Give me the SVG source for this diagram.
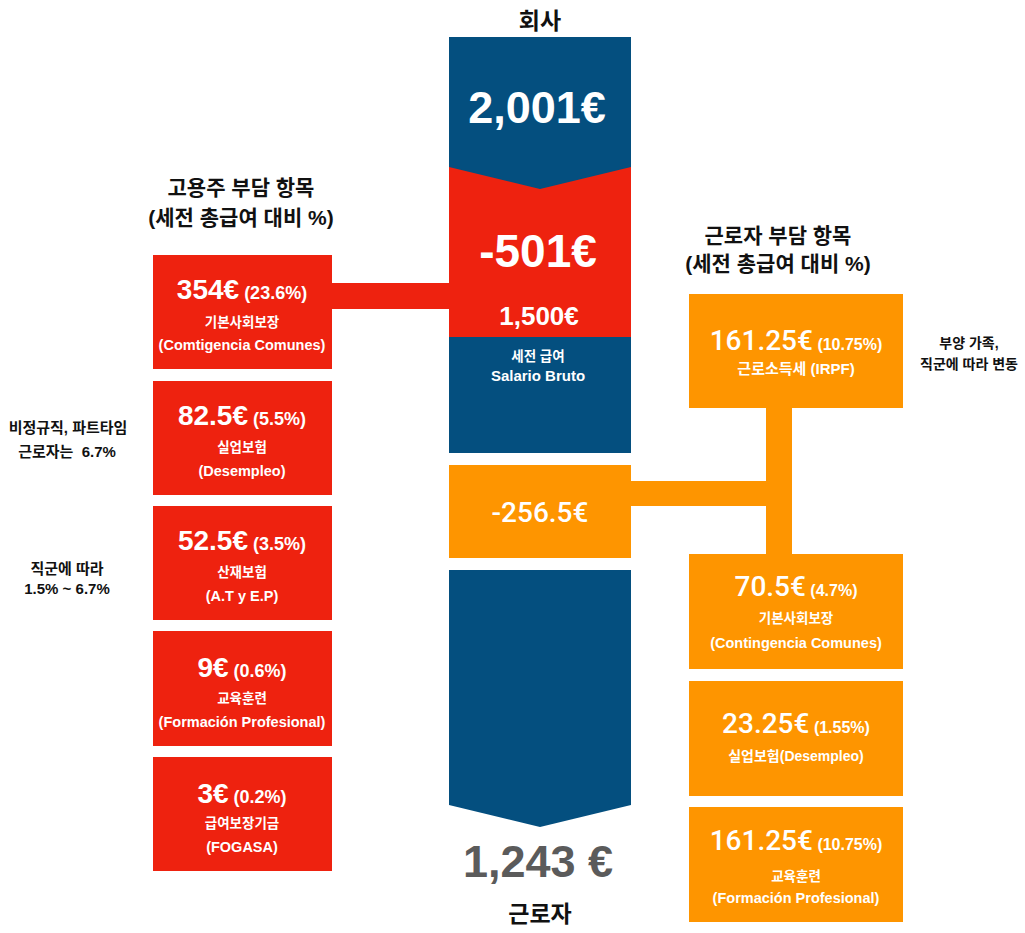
<svg xmlns="http://www.w3.org/2000/svg" width="1025" height="933" viewBox="0 0 1025 933">
<style>
text{font-family:"Liberation Sans","Noto Sans CJK KR",sans-serif;text-anchor:middle;font-weight:bold}
.w{fill:#ffffff}
.k{fill:#111111}
.blue{fill:#044f7f}
.red{fill:#ee220f}
.org{fill:#fe9500}
.big{font-size:28px}
.pct{font-size:18px}
.sub{font-size:13.5px}
.lat{font-size:14.5px}
.rn{font-family:Roboto,"Liberation Sans",sans-serif;font-weight:500}
.note{font-size:15px}
.head{font-size:21px}
</style>
<rect width="1025" height="933" fill="#ffffff"/>
<g id="connectors">
<rect class="red" x="330" y="283" width="122" height="26"/>
<rect class="org" x="629" y="481" width="163" height="25"/>
<rect class="org" x="766" y="406" width="26" height="150"/>
</g>
<g id="company">
<text class="k" x="540" y="29" font-size="23">회사</text>
<rect class="blue" x="449" y="37" width="182" height="416"/>
<text class="w" x="537" y="123" font-size="45">2,001€</text>
</g>
<g id="employer-total">
<polygon class="red" points="449,167 540,189 631,167 631,337 449,337"/>
<text class="w" x="538" y="267" font-size="46">-501€</text>
<text class="w" x="539" y="325" font-size="26">1,500€</text>
</g>
<g id="gross">
<text class="w" x="538" y="361" font-size="13.5">세전 급여</text>
<text class="w" x="538" y="381" font-size="15">Salario Bruto</text>
</g>
<g id="worker-total">
<rect class="org" x="449" y="465" width="182" height="93"/>
<text class="w rn" x="540" y="522" font-size="28">-256.5€</text>
</g>
<g id="worker">
<polygon class="blue" points="449,570 631,570 631,805 540,827 449,805"/>
<text x="538" y="877" font-size="45" fill="#5b5b5b">1,243 €</text>
<text class="k" x="540" y="922" font-size="23">근로자</text>
</g>
<g id="employer-heading">
<text class="k head" x="241" y="195">고용주 부담 항목</text>
<text class="k head" x="241" y="225">(세전 총급여 대비 %)</text>
</g>
<g id="emp-1">
<rect class="red" x="153" y="255" width="179" height="114"/>
<text class="w" x="242" y="299"><tspan class="big">354€</tspan><tspan class="pct"> (23.6%)</tspan></text>
<text class="w sub" x="242" y="327">기본사회보장</text>
<text class="w lat" x="242" y="350">(Comtigencia Comunes)</text>
</g>
<g id="emp-2">
<rect class="red" x="153" y="381" width="179" height="114"/>
<text class="w" x="242" y="425"><tspan class="big">82.5€</tspan><tspan class="pct"> (5.5%)</tspan></text>
<text class="w sub" x="242" y="452">실업보험</text>
<text class="w lat" x="242" y="476">(Desempleo)</text>
</g>
<g id="emp-3">
<rect class="red" x="153" y="506" width="179" height="114"/>
<text class="w" x="242" y="550"><tspan class="big">52.5€</tspan><tspan class="pct"> (3.5%)</tspan></text>
<text class="w sub" x="242" y="577">산재보험</text>
<text class="w lat" x="242" y="601">(A.T y E.P)</text>
</g>
<g id="emp-4">
<rect class="red" x="153" y="631" width="179" height="115"/>
<text class="w" x="242" y="677"><tspan class="big">9€</tspan><tspan class="pct"> (0.6%)</tspan></text>
<text class="w sub" x="242" y="703">교육훈련</text>
<text class="w lat" x="242" y="727">(Formación Profesional)</text>
</g>
<g id="emp-5">
<rect class="red" x="153" y="757" width="179" height="114"/>
<text class="w" x="242" y="803"><tspan class="big">3€</tspan><tspan class="pct"> (0.2%)</tspan></text>
<text class="w sub" x="242" y="828">급여보장기금</text>
<text class="w lat" x="242" y="852">(FOGASA)</text>
</g>
<g id="note-left-1">
<text class="k note" x="68" y="433">비정규직, 파트타임</text>
<text class="k note" x="67" y="457">근로자는&#160; 6.7%</text>
</g>
<g id="note-left-2">
<text class="k note" x="67" y="574">직군에 따라</text>
<text class="k note" x="67" y="594">1.5% ~ 6.7%</text>
</g>
<g id="worker-heading">
<text class="k head" x="778" y="243">근로자 부담 항목</text>
<text class="k head" x="778" y="271">(세전 총급여 대비 %)</text>
</g>
<g id="wrk-1">
<rect class="org" x="689" y="294" width="214" height="114"/>
<text class="w" x="796" y="350"><tspan class="big rn">161.25€</tspan><tspan font-size="16"> (10.75%)</tspan></text>
<text class="w" x="796" y="374" font-size="15">근로소득세 (IRPF)</text>
</g>
<g id="note-right">
<text class="k" x="969" y="348" font-size="14">부양 가족,</text>
<text class="k" x="969" y="369" font-size="14">직군에 따라 변동</text>
</g>
<g id="wrk-2">
<rect class="org" x="689" y="554" width="214" height="115"/>
<text class="w" x="796" y="596"><tspan class="big rn">70.5€</tspan><tspan font-size="16"> (4.7%)</tspan></text>
<text class="w sub" x="796" y="623">기본사회보장</text>
<text class="w lat" x="796" y="648">(Contingencia Comunes)</text>
</g>
<g id="wrk-3">
<rect class="org" x="689" y="681" width="214" height="115"/>
<text class="w" x="796" y="733"><tspan class="big rn">23.25€</tspan><tspan font-size="16"> (1.55%)</tspan></text>
<text class="w" x="796" y="761" font-size="14">실업보험(Desempleo)</text>
</g>
<g id="wrk-4">
<rect class="org" x="689" y="807" width="214" height="115"/>
<text class="w" x="796" y="850"><tspan class="big rn">161.25€</tspan><tspan font-size="16"> (10.75%)</tspan></text>
<text class="w sub" x="796" y="881">교육훈련</text>
<text class="w lat" x="796" y="903">(Formación Profesional)</text>
</g>
</svg>
